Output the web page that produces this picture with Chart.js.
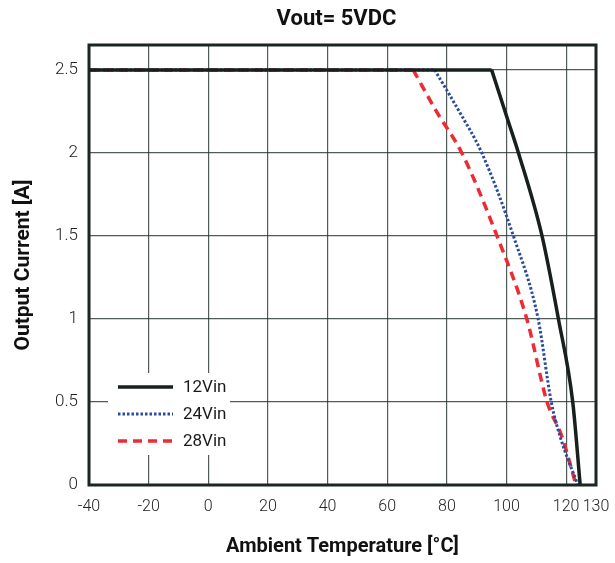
<!DOCTYPE html>
<html>
<head>
<meta charset="utf-8">
<script src="https://cdn.jsdelivr.net/npm/chart.js@4.4.0/dist/chart.umd.min.js"></script>
<style>
  html, body { margin: 0; padding: 0; background: #fff; }
</style>
</head>
<body>
<canvas id="chart" width="615" height="563"></canvas>
<script>
// values (first point = left edge, second = knee)
const temp12 = [-40, 95.0, 100.4, 104.0, 111.9, 117.4, 122.2, 124.7];
const curr12 = [2.5, 2.5, 2.2, 2.0, 1.5, 1.0, 0.5, 0];

const temp24 = [-40, 75.9, 83.8, 91.7, 102.3, 110.6, 115.0, 118.0, 123.9];
const curr24 = [2.5, 2.5, 2.26, 2.0, 1.5, 1.0, 0.5, 0.29, 0];

const temp28 = [-40, 68.7, 76.5, 85.0, 96.8, 106.8, 113.6, 118.6, 123.3];
const curr28 = [2.5, 2.5, 2.25, 2.0, 1.5, 1.0, 0.5, 0.29, 0];

const xTicks = [-40, -20, 0, 20, 40, 60, 80, 100, 120, 130];
const yTicks = [0, 0.5, 1, 1.5, 2, 2.5];

const FONT = '"Roboto", "Liberation Sans", sans-serif';

function pts(xs, ys) {
    return xs.map((x, i) => ({ x: x, y: ys[i] }));
}

// each curve: a straight flat part up to the knee, then a smooth drop
function series(label, xs, ys, style) {
    const curve = Object.assign({ label: label, data: pts(xs.slice(1), ys.slice(1)),
        pointRadius: 0, cubicInterpolationMode: 'monotone' }, style);
    const flat = Object.assign({ label: '', data: pts(xs.slice(0, 2), ys.slice(0, 2)),
        pointRadius: 0, tension: 0 }, style);
    return [curve, flat];
}

// title centred over the plot
const topTitle = {
    id: 'topTitle',
    afterDraw(chart) {
        const ctx = chart.ctx;
        const a = chart.chartArea;
        ctx.save();
        ctx.fillStyle = '#111';
        ctx.font = 'bold 22px ' + FONT;
        ctx.textAlign = 'center';
        ctx.textBaseline = 'middle';
        ctx.fillText('Vout= 5VDC', (a.left + a.right) / 2 - 6, 19);
        ctx.restore();
    }
};

// legend drawn inside the plot, lower left, on a white patch
const legendBox = {
    id: 'legendBox',
    beforeDatasetsDraw(chart) {
        const ctx = chart.ctx;
        const a = chart.chartArea;
        const bx = a.left + 19, by = a.bottom - 112;
        ctx.save();
        ctx.fillStyle = '#fff';
        ctx.fillRect(bx, by, 122, 82);
        chart.data.datasets.filter(ds => ds.label).forEach((ds, i) => {
            const y = by + 14 + i * 27;
            ctx.beginPath();
            ctx.setLineDash(ds.borderDash || []);
            ctx.lineWidth = ds.borderWidth;
            ctx.strokeStyle = ds.borderColor;
            ctx.moveTo(bx + 10, y);
            ctx.lineTo(bx + 65, y);
            ctx.stroke();
            ctx.setLineDash([]);
            ctx.fillStyle = '#1a1a1a';
            ctx.font = '17px ' + FONT;
            ctx.textBaseline = 'middle';
            ctx.fillText(ds.label, bx + 75, y + 1);
        });
        ctx.restore();
    }
};

// heavy frame round the plot
const frame = {
    id: 'frame',
    afterDatasetsDraw(chart) {
        const ctx = chart.ctx;
        const a = chart.chartArea;
        ctx.save();
        ctx.strokeStyle = '#1b2522';
        ctx.lineWidth = 3;
        ctx.strokeRect(a.left, a.top, a.right - a.left, a.bottom - a.top);
        ctx.restore();
    }
};

const datasets = [].concat(
    series('12Vin', temp12, curr12, { borderColor: '#17201d', borderWidth: 3.5 }),
    series('24Vin', temp24, curr24, { borderColor: '#2a4c9c', borderWidth: 3, borderDash: [2.5, 2] }),
    series('28Vin', temp28, curr28, { borderColor: '#ee2a33', borderWidth: 3.5, borderDash: [9, 6] })
);

const ctx = document.getElementById('chart').getContext('2d');
const chart = new Chart(ctx, {
    type: 'line',
    data: { datasets: datasets },
    options: {
        responsive: false,
        animation: false,
        layout: { padding: { left: 0, right: 19, top: 45, bottom: 0 } },
        plugins: {
            legend: { display: false },
            tooltip: { enabled: false },
            title: { display: false }
        },
        scales: {
            x: {
                type: 'linear',
                min: -40,
                max: 130,
                afterBuildTicks: (s) => { s.ticks = xTicks.map(v => ({ value: v })); },
                afterFit: (s) => { s.height = 78; s.paddingLeft = 0; s.paddingRight = 0; },
                ticks: {
                    autoSkip: false,
                    maxRotation: 0,
                    padding: 12,
                    color: '#222',
                    font: { family: FONT, size: 16, weight: '300' }
                },
                grid: { color: 'rgba(40,50,48,0.8)', lineWidth: 1.2, drawTicks: false },
                border: { display: false },
                title: {
                    display: true,
                    text: 'Ambient Temperature [°C]',
                    color: '#111',
                    font: { family: FONT, size: 20, weight: 'bold' },
                    padding: { top: 14 }
                }
            },
            y: {
                type: 'linear',
                min: 0,
                max: 2.65,
                afterBuildTicks: (s) => { s.ticks = yTicks.map(v => ({ value: v })); },
                afterFit: (s) => { s.width = 89; s.paddingTop = 0; s.paddingBottom = 0; },
                ticks: {
                    padding: 11,
                    color: '#222',
                    font: { family: FONT, size: 17, weight: '300' },
                    callback: (v) => String(v)
                },
                grid: { color: 'rgba(40,50,48,0.8)', lineWidth: 1.2, drawTicks: false },
                border: { display: false },
                title: {
                    display: true,
                    text: 'Output Current [A]',
                    color: '#111',
                    font: { family: FONT, size: 21, weight: 'bold' },
                    padding: { top: 11, bottom: 6 }
                }
            }
        }
    },
    plugins: [legendBox, frame, topTitle]
});
</script>
</body>
</html>
